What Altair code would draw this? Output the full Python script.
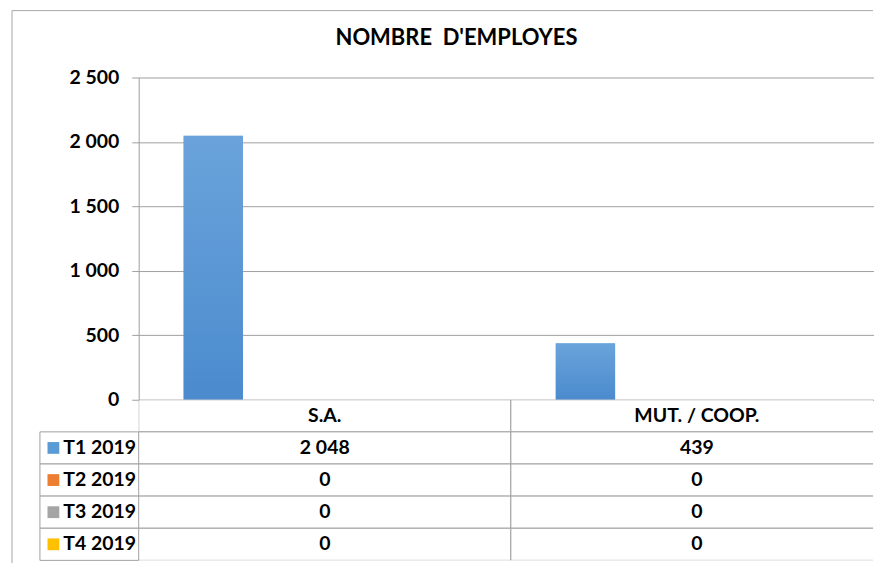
import altair as alt
import pandas as pd

# ---------------- data ----------------
categories = ["S.A.", "MUT. / COOP."]
series = ["T1 2019", "T2 2019", "T3 2019", "T4 2019"]
values_t1 = [2048, 439]
values_t2 = [0, 0]
values_t3 = [0, 0]
values_t4 = [0, 0]
colors = ["#5B9BD5", "#ED7D31", "#A5A5A5", "#FFC000"]
y_ticks = [0, 500, 1000, 1500, 2000, 2500]
title_text = "NOMBRE\u00a0 D'EMPLOYES"
header_row = "header"

series_values = dict(zip(series, [values_t1, values_t2, values_t3, values_t4]))

rows = []
for s in series:
    for c, v in zip(categories, series_values[s]):
        rows.append({"category": c, "series": s, "value": v})
df = pd.DataFrame(rows)


def fmt(v):
    return f"{v:,}".replace(",", " ")


cells = []
for c in categories:
    cells.append({"category": c, "row": header_row, "label": c})
for s in series:
    for c, v in zip(categories, series_values[s]):
        cells.append({"category": c, "row": s, "label": fmt(v)})
cells_df = pd.DataFrame(cells)

legend_df = pd.DataFrame({"row": series, "series": series})
spacer_df = pd.DataFrame({"k": [0]})

# ---------------- style ----------------
FONT = "Lato"
LINE = "#a0a0a0"
FRAME = "#a6a6a6"
PLOT_W, PLOT_H = 736, 323
BAND_RANGE = 746          # the category columns run past the visible right edge
LEFT_W, TABLE_H = 99, 161
FS = 19.5

row_order = [header_row] + series

x_cat = alt.X("category:N", sort=categories,
              scale=alt.Scale(domain=categories, paddingInner=0, paddingOuter=0,
                              range=[0, BAND_RANGE]),
              axis=None)
row_y = alt.Y("row:N", sort=row_order,
              scale=alt.Scale(domain=row_order, paddingInner=0, paddingOuter=0),
              axis=None)
color_enc = alt.Color("series:N", sort=series,
                      scale=alt.Scale(domain=series, range=colors), legend=None)
x_off = alt.XOffset("series:N", sort=series,
                    scale=alt.Scale(domain=series, paddingInner=0.19,
                                    paddingOuter=0.632, align=0.484))
y_val = alt.Y("value:Q",
              scale=alt.Scale(domain=[0, 2500], nice=False),
              axis=alt.Axis(values=y_ticks, title=None,
                            labelExpr="replace(format(datum.value, ','), ',', ' ')",
                            grid=True, gridColor=LINE, domainColor=LINE,
                            tickColor=LINE, tickSize=7, labelPadding=13,
                            labelFont=FONT, labelFontSize=FS, labelFontWeight="bold",
                            labelColor="black"))

# soft vertical shading like the spreadsheet's bar fill
shade = alt.LinearGradient(
    gradient="linear", x1=0, x2=0, y1=0, y2=1,
    stops=[alt.GradientStop(color="rgba(122,172,226,0.5)", offset=0),
           alt.GradientStop(color="rgba(58,122,198,0.5)", offset=1)],
)

# ---------------- bar chart ----------------
bars = alt.layer(
    alt.Chart(df).mark_bar(clip=True).encode(
        x=x_cat, xOffset=x_off, y=y_val, color=color_enc),
    alt.Chart(df).mark_bar(clip=True, fill=shade).encode(
        x=x_cat, xOffset=x_off, y=y_val),
).properties(width=PLOT_W, height=PLOT_H)

# ---------------- data table ----------------
table = alt.layer(
    alt.Chart(cells_df).mark_rect(fill="white", stroke=LINE, strokeWidth=1, clip=True).encode(
        x=x_cat, y=row_y),
    alt.Chart(cells_df).mark_text(font=FONT, fontSize=FS, fontWeight="bold",
                                  color="black").encode(
        x=x_cat, y=row_y, text="label:N"),
).properties(width=PLOT_W, height=TABLE_H)

leftcol = alt.layer(
    alt.Chart(legend_df).mark_rect(fill="white", stroke=LINE, strokeWidth=1).encode(
        y=row_y),
    alt.Chart(legend_df).mark_square(size=140, xOffset=-36, opacity=1).encode(
        y=row_y, color=color_enc),
    alt.Chart(legend_df).mark_text(align="left", dx=-26, font=FONT, fontSize=FS,
                                   fontWeight="bold", color="black").encode(
        y=row_y, text="series:N"),
).properties(width=LEFT_W, height=TABLE_H)

# ---------------- outer frame (decoration) ----------------
spacer = alt.layer(
    alt.Chart(spacer_df).mark_rule(color=FRAME).encode(
        x=alt.value(-28), y=alt.value(-67), y2=alt.value(490)),
    alt.Chart(spacer_df).mark_rule(color=FRAME).encode(
        x=alt.value(-28), x2=alt.value(LEFT_W + PLOT_W), y=alt.value(-67)),
).properties(width=LEFT_W, height=PLOT_H)

chart = alt.concat(
    spacer, bars, leftcol, table,
    columns=2, spacing=0, bounds="flush",
    title=alt.TitleParams(title_text, font=FONT, fontSize=22, fontWeight="bold",
                          color="black", anchor="middle", dx=14, offset=-40),
).properties(
    padding={"left": 3, "top": 1, "right": 0, "bottom": 0}
).configure_view(stroke=None)

chart.save("out.html", embed_options={"renderer": "svg", "actions": False})
